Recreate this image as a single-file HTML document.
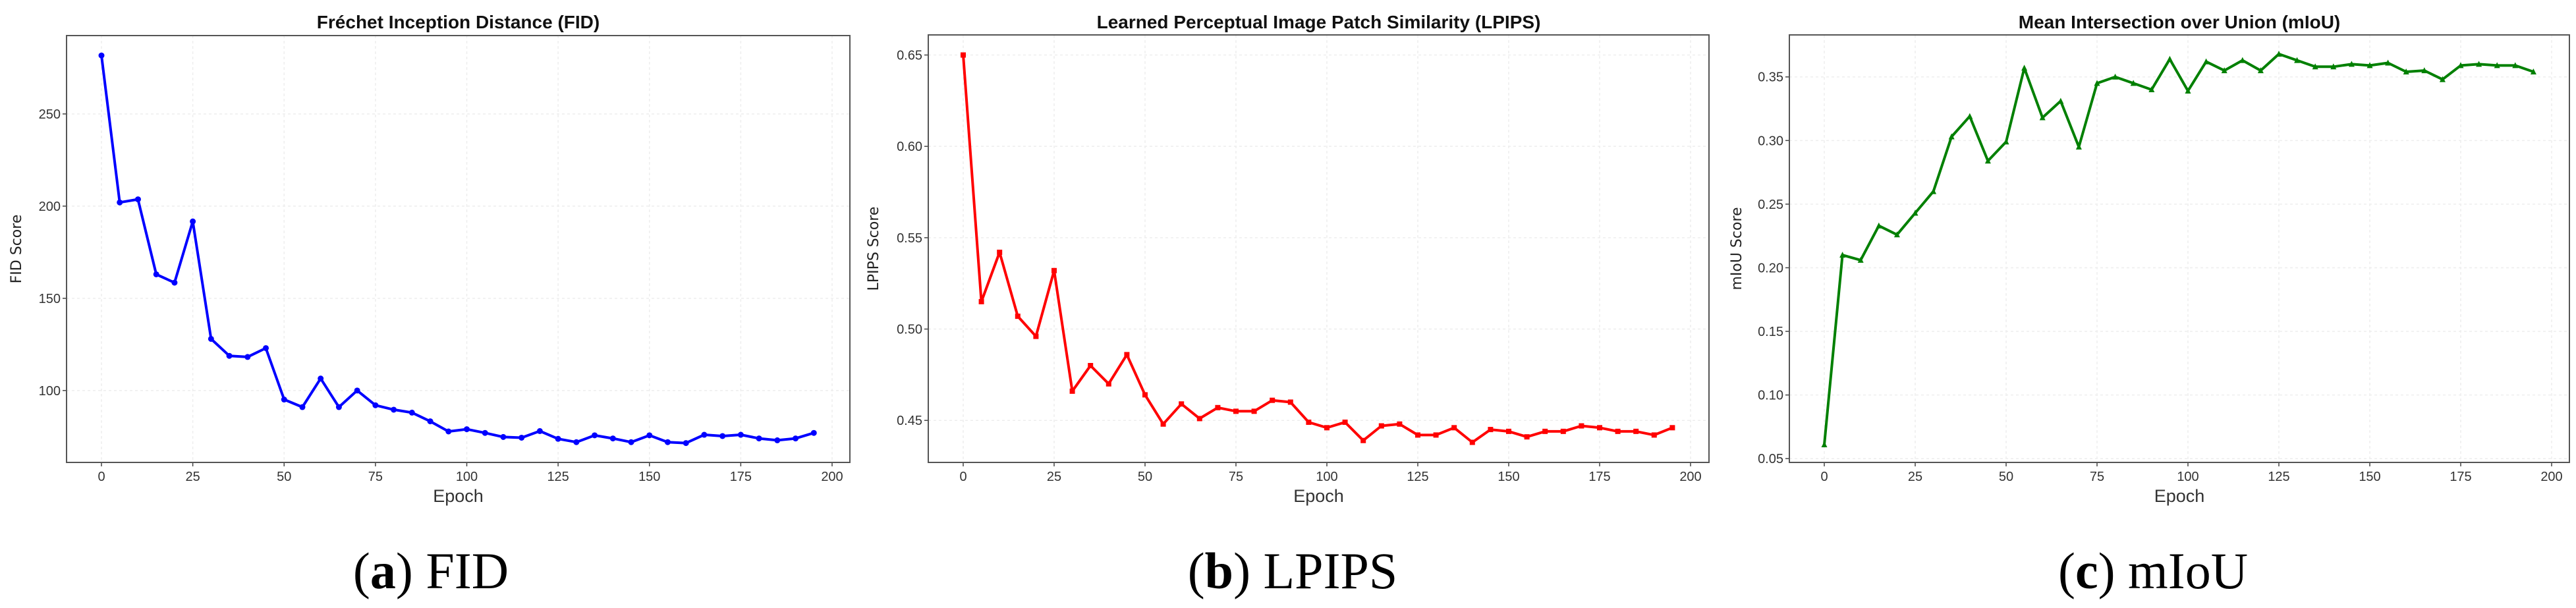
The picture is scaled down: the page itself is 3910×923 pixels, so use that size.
<!DOCTYPE html>
<html><head><meta charset="utf-8">
<style>
html,body{margin:0;padding:0;background:#fff;width:3910px;height:923px;overflow:hidden}
svg{display:block}
.tick{font-family:"Liberation Sans",sans-serif;font-size:20px;fill:#333}
.ttl{font-family:"Liberation Sans",sans-serif;font-size:28px;font-weight:bold;fill:#111}
.xl{font-family:"Liberation Sans",sans-serif;font-size:27px;fill:#333}
.yl{font-family:"DejaVu Sans",sans-serif;font-size:22px;fill:#222}
.cap{font-family:"Liberation Serif",serif;font-size:78px;fill:#000}
</style></head>
<body>
<svg id="fig" width="3910" height="923" viewBox="0 0 3910 923"></svg>
<script>
const epochs = [0,5,10,15,20,25,30,35,40,45,50,55,60,65,70,75,80,85,90,95,100,105,110,115,120,125,130,135,140,145,150,155,160,165,170,175,180,185,190,195];
const fidValues = [281.7,202,203.7,163,158.5,191.7,128,118.8,118.2,123,95.1,91,106.5,91,100,92,89.6,88,83.3,77.8,79,77,74.8,74.4,78,73.8,72,75.7,74,72,75.7,72,71.5,76,75.3,76,74,73,74,77];
const lpipsValues = [0.650,0.515,0.542,0.507,0.496,0.532,0.466,0.480,0.470,0.486,0.464,0.448,0.459,0.451,0.457,0.455,0.455,0.461,0.460,0.449,0.446,0.449,0.439,0.447,0.448,0.442,0.442,0.446,0.438,0.445,0.444,0.441,0.444,0.444,0.447,0.446,0.444,0.444,0.442,0.446];
const miouValues = [0.061,0.210,0.206,0.233,0.226,0.243,0.260,0.303,0.319,0.284,0.299,0.357,0.318,0.331,0.295,0.345,0.350,0.345,0.340,0.364,0.339,0.362,0.355,0.363,0.355,0.368,0.363,0.358,0.358,0.360,0.359,0.361,0.354,0.355,0.348,0.359,0.360,0.359,0.359,0.354];
const xTicks = [0,25,50,75,100,125,150,175,200];
const fidTicks = [100,150,200,250];
const lpipsTicks = [0.45,0.50,0.55,0.60,0.65];
const miouTicks = [0.05,0.10,0.15,0.20,0.25,0.30,0.35];

const NS="http://www.w3.org/2000/svg";
const svg=document.getElementById('fig');
function mk(tag,attrs,parent){const e=document.createElementNS(NS,tag);for(const k in attrs)e.setAttribute(k,attrs[k]);(parent||svg).appendChild(e);return e;}

const panels=[
 {key:'fid',title:'Fréchet Inception Distance (FID)',ylabel:'FID Score',vals:fidValues,ticks:fidTicks,fmt:v=>String(v),color:'#0000ff',marker:'circle',
  L:101,R:1290,T:54,B:702,x0:154,x200:1263,ymin:61,ymax:292.5,ylx:32,cap:'a',capText:' FID',capX:654},
 {key:'lpips',title:'Learned Perceptual Image Patch Similarity (LPIPS)',ylabel:'LPIPS Score',vals:lpipsValues,ticks:lpipsTicks,fmt:v=>v.toFixed(2),color:'#ff0000',marker:'square',
  L:1409,R:2594,T:53,B:702,x0:1462,x200:2566,ymin:0.427,ymax:0.661,ylx:1333,cap:'b',capText:' LPIPS',capX:1962},
 {key:'miou',title:'Mean Intersection over Union (mIoU)',ylabel:'mIoU Score',vals:miouValues,ticks:miouTicks,fmt:v=>v.toFixed(2),color:'#008000',marker:'triangle',
  L:2716,R:3900,T:53,B:702,x0:2769,x200:3873,ymin:0.047,ymax:0.383,ylx:2643,cap:'c',capText:' mIoU',capX:3268}
];

panels.forEach(p=>{
  const g=mk('g',{});
  
  
  const xs=v=>p.x0+(v/200)*(p.x200-p.x0);
  const ys=v=>p.B-(v-p.ymin)/(p.ymax-p.ymin)*(p.B-p.T);
  xTicks.forEach(t=>{
    const l=mk('line',{x1:xs(t),x2:xs(t),y1:p.T,y2:p.B,stroke:'#eeeeee','stroke-width':1.5,'stroke-dasharray':'4,4'},g);
    
    
    mk('line',{x1:xs(t),x2:xs(t),y1:p.B,y2:p.B+6,stroke:'#444','stroke-width':1.5},g);
    const tx=mk('text',{x:xs(t),y:p.B+28,'text-anchor':'middle',class:'tick'},g);
    tx.textContent=t;
    
    
  });
  p.ticks.forEach(t=>{
    const l=mk('line',{x1:p.L,x2:p.R,y1:ys(t),y2:ys(t),stroke:'#eeeeee','stroke-width':1.5,'stroke-dasharray':'4,4'},g);
    
    
    mk('line',{x1:p.L-6,x2:p.L,y1:ys(t),y2:ys(t),stroke:'#444','stroke-width':1.5},g);
    const tx=mk('text',{x:p.L-9,y:ys(t)+7,'text-anchor':'end',class:'tick'},g);
    tx.textContent=p.fmt(t);
    
    
  });
  const fr=mk('rect',{x:p.L,y:p.T,width:p.R-p.L,height:p.B-p.T,fill:'none',stroke:'#555','stroke-width':2},g);
  
  
  const pts=epochs.map((e,i)=>xs(e).toFixed(1)+','+ys(p.vals[i]).toFixed(1)).join(' ');
  const pl=mk('polyline',{points:pts,fill:'none',stroke:p.color,'stroke-width':4,'stroke-linejoin':'round'},g);
  
  
  epochs.forEach((e,i)=>{
    const cx=xs(e),cy=ys(p.vals[i]);let m;
    if(p.marker==='circle') m=mk('circle',{cx:cx,cy:cy,r:4.5,fill:p.color},g);
    else if(p.marker==='square') m=mk('rect',{x:cx-4,y:cy-4,width:8,height:8,fill:p.color},g);
    else m=mk('polygon',{points:`${cx},${cy-5} ${cx-4.5},${cy+4} ${cx+4.5},${cy+4}`,fill:p.color},g);
    
    
  });
  const tt=mk('text',{x:(p.L+p.R)/2,y:43,'text-anchor':'middle',class:'ttl'},g);
  tt.textContent=p.title;
  
  
  const xl=mk('text',{x:(p.L+p.R)/2,y:762,'text-anchor':'middle',class:'xl'},g);
  xl.textContent='Epoch';
  
  
  const cy=(p.T+p.B)/2;
  const yl=mk('text',{x:p.ylx,y:cy,'text-anchor':'middle',class:'yl',transform:`rotate(-90 ${p.ylx} ${cy})`},g);
  yl.textContent=p.ylabel;
  
  
  const cap=mk('text',{x:p.capX,y:893,'text-anchor':'middle',class:'cap'},g);
  
  
  const t1=mk('tspan',{},cap);t1.textContent='(';
  const t2=mk('tspan',{'font-weight':'bold'},cap);t2.textContent=p.cap;
  const t3=mk('tspan',{},cap);t3.textContent=')'+p.capText;
});
</script>
</body></html>
